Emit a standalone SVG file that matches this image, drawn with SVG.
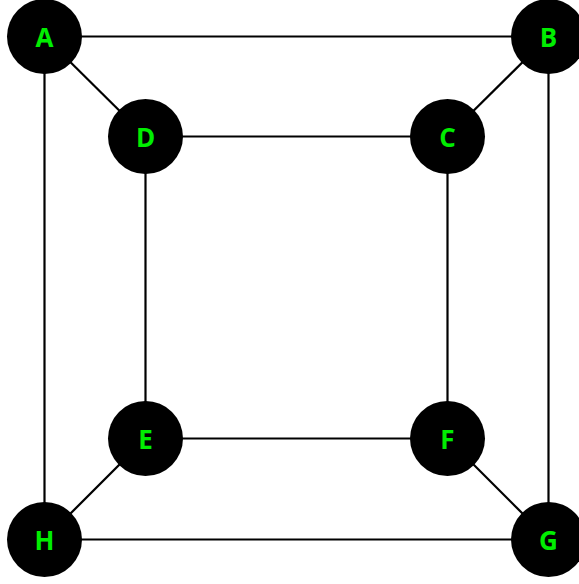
<svg xmlns="http://www.w3.org/2000/svg" width="579" height="584" viewBox="0 0 579 584">
  <style>
    .edge { stroke: #000; stroke-width: 2.2; fill: none; }
    .node circle { fill: #000; }
    .node text { fill: #00ee00; font-family: "Open Sans", "Noto Sans", sans-serif; font-weight: bold; font-size: 26px; text-anchor: middle; dominant-baseline: central; }
  </style>
  <rect width="579" height="584" fill="#fff"/>
  <g id="edges">
    <line class="edge" x1="44.5" y1="36.5" x2="548.5" y2="36.5"/>
    <line class="edge" x1="44.5" y1="36.5" x2="44.5" y2="539.5"/>
    <line class="edge" x1="44.5" y1="36.5" x2="145.5" y2="136.5"/>
    <line class="edge" x1="548.5" y1="36.5" x2="548.5" y2="539.5"/>
    <line class="edge" x1="548.5" y1="36.5" x2="447.5" y2="136.5"/>
    <line class="edge" x1="145.5" y1="136.5" x2="447.5" y2="136.5"/>
    <line class="edge" x1="145.5" y1="136.5" x2="145.5" y2="438.5"/>
    <line class="edge" x1="447.5" y1="136.5" x2="447.5" y2="438.5"/>
    <line class="edge" x1="145.5" y1="438.5" x2="447.5" y2="438.5"/>
    <line class="edge" x1="145.5" y1="438.5" x2="44.5" y2="539.5"/>
    <line class="edge" x1="447.5" y1="438.5" x2="548.5" y2="539.5"/>
    <line class="edge" x1="44.5" y1="539.5" x2="548.5" y2="539.5"/>
  </g>
  <g id="A" class="node"><circle cx="44.5" cy="36.5" r="37.5"/><text x="44.5" y="36.5">A</text></g>
  <g id="B" class="node"><circle cx="548.5" cy="36.5" r="37.5"/><text x="548.5" y="36.5">B</text></g>
  <g id="C" class="node"><circle cx="447.5" cy="136.5" r="37.5"/><text x="447.5" y="136.5">C</text></g>
  <g id="D" class="node"><circle cx="145.5" cy="136.5" r="37.5"/><text x="145.5" y="136.5">D</text></g>
  <g id="E" class="node"><circle cx="145.5" cy="438.5" r="37.5"/><text x="145.5" y="438.5">E</text></g>
  <g id="F" class="node"><circle cx="447.5" cy="438.5" r="37.5"/><text x="447.5" y="438.5">F</text></g>
  <g id="G" class="node"><circle cx="548.5" cy="539.5" r="37.5"/><text x="548.5" y="539.5">G</text></g>
  <g id="H" class="node"><circle cx="44.5" cy="539.5" r="37.5"/><text x="44.5" y="539.5">H</text></g>
</svg>
